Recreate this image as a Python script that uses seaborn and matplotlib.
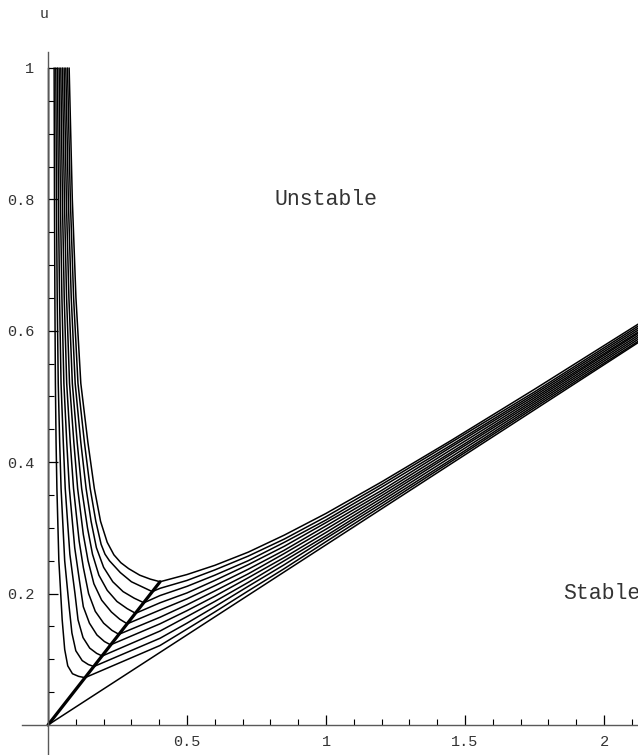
import pandas as pd
import matplotlib
matplotlib.use("Agg")
import matplotlib.pyplot as plt
import seaborn as sns
from matplotlib.ticker import FixedLocator

## data
# left branches, from u = 1 down to the kink on the diagonal
left_x = [
    [0.022, 0.0233, 0.0247, 0.0266, 0.029, 0.032, 0.039, 0.051, 0.060, 0.071, 0.088, 0.110, 0.133],
    [0.028, 0.0304, 0.0331, 0.0368, 0.042, 0.047, 0.060, 0.076, 0.086, 0.100, 0.123, 0.145, 0.165],
    [0.034, 0.0375, 0.0415, 0.0469, 0.055, 0.0619, 0.0786, 0.097, 0.108, 0.126, 0.150, 0.175, 0.195],
    [0.040, 0.0446, 0.050, 0.0571, 0.0674, 0.0768, 0.096, 0.113, 0.127, 0.149, 0.176, 0.203, 0.225],
    [0.046, 0.0518, 0.0584, 0.0672, 0.080, 0.0918, 0.112, 0.127, 0.146, 0.170, 0.200, 0.230, 0.255],
    [0.052, 0.0589, 0.0668, 0.0774, 0.093, 0.1066, 0.127, 0.144, 0.165, 0.193, 0.228, 0.258, 0.285],
    [0.058, 0.066, 0.0752, 0.0875, 0.105, 0.121, 0.142, 0.160, 0.183, 0.213, 0.248, 0.285, 0.315],
    [0.064, 0.0731, 0.0836, 0.0977, 0.118, 0.137, 0.155, 0.174, 0.200, 0.233, 0.270, 0.310, 0.345],
    [0.070, 0.0803, 0.0921, 0.1078, 0.131, 0.1517, 0.172, 0.191, 0.205, 0.221, 0.260, 0.300, 0.345, 0.375],
    [0.076, 0.0874, 0.1005, 0.118, 0.1435, 0.1666, 0.189, 0.213, 0.237, 0.262, 0.290, 0.330, 0.368, 0.403],
]
left_u = [
    [1.0, 0.8, 0.65, 0.52, 0.43, 0.36, 0.25, 0.16, 0.115, 0.09, 0.078, 0.074, 0.072],
    [1.0, 0.8, 0.65, 0.52, 0.43, 0.36, 0.25, 0.18, 0.14, 0.113, 0.098, 0.092, 0.089],
    [1.0, 0.8, 0.65, 0.52, 0.43, 0.36, 0.26, 0.20, 0.16, 0.133, 0.117, 0.109, 0.105],
    [1.0, 0.8, 0.65, 0.52, 0.43, 0.36, 0.27, 0.22, 0.18, 0.155, 0.137, 0.127, 0.122],
    [1.0, 0.8, 0.65, 0.52, 0.43, 0.36, 0.28, 0.24, 0.20, 0.173, 0.155, 0.144, 0.138],
    [1.0, 0.8, 0.65, 0.52, 0.43, 0.36, 0.29, 0.25, 0.215, 0.19, 0.172, 0.161, 0.154],
    [1.0, 0.8, 0.65, 0.52, 0.43, 0.36, 0.30, 0.26, 0.228, 0.205, 0.188, 0.177, 0.170],
    [1.0, 0.8, 0.65, 0.52, 0.43, 0.36, 0.31, 0.27, 0.24, 0.218, 0.203, 0.193, 0.186],
    [1.0, 0.8, 0.65, 0.52, 0.43, 0.36, 0.31, 0.275, 0.26, 0.25, 0.232, 0.218, 0.209, 0.203],
    [1.0, 0.8, 0.65, 0.52, 0.43, 0.36, 0.31, 0.278, 0.259, 0.247, 0.238, 0.228, 0.222, 0.218],
]
# right branches, on a shared x grid past the kinks
right_x = [0.403, 0.5, 0.6, 0.72, 0.85, 1.0, 1.2, 1.45, 1.75, 2.13]
right_u = [
    [0.121, 0.146, 0.172, 0.204, 0.238, 0.279, 0.333, 0.401, 0.483, 0.586],
    [0.132, 0.155, 0.180, 0.211, 0.244, 0.284, 0.337, 0.404, 0.486, 0.589],
    [0.143, 0.165, 0.188, 0.217, 0.250, 0.288, 0.341, 0.408, 0.489, 0.592],
    [0.154, 0.174, 0.196, 0.224, 0.255, 0.293, 0.345, 0.412, 0.492, 0.595],
    [0.164, 0.183, 0.204, 0.230, 0.261, 0.298, 0.349, 0.415, 0.495, 0.598],
    [0.175, 0.192, 0.212, 0.237, 0.266, 0.303, 0.353, 0.419, 0.498, 0.600],
    [0.186, 0.201, 0.220, 0.244, 0.272, 0.308, 0.357, 0.423, 0.501, 0.603],
    [0.197, 0.211, 0.228, 0.250, 0.278, 0.312, 0.362, 0.426, 0.504, 0.606],
    [0.208, 0.220, 0.236, 0.257, 0.283, 0.317, 0.366, 0.430, 0.507, 0.609],
    [0.218, 0.229, 0.243, 0.263, 0.289, 0.322, 0.370, 0.433, 0.511, 0.612],
]
# degenerate member: up the u axis, then straight out
axis_curve_x = [0.002, 0.002]
axis_curve_u = [1.0, 0.0]
line_x = [0.0, 2.13]
line_u = [0.0, 0.584]
# locus of the kinks
diag_x = [0.0, 0.403]
diag_u = [0.0, 0.218]

x_ticks = [0.5, 1, 1.5, 2]
x_labels = ["0.5", "1", "1.5", "2"]
x_minor = [0.1, 0.2, 0.3, 0.4, 0.6, 0.7, 0.8, 0.9, 1.1, 1.2, 1.3, 1.4, 1.6, 1.7, 1.8, 1.9, 2.1]
y_ticks = [0.2, 0.4, 0.6, 0.8, 1]
y_labels = ["0.2", "0.4", "0.6", "0.8", "1"]
y_minor = [0.05, 0.1, 0.15, 0.25, 0.3, 0.35, 0.45, 0.5, 0.55, 0.65, 0.7, 0.75, 0.85, 0.9, 0.95]

# build long table, one "curve" id per line
rows = []
for k in range(len(left_x)):
    xs = list(left_x[k])
    us = list(left_u[k])
    for rx, ru in zip(right_x, right_u[k]):
        if rx > xs[-1]:
            xs.append(rx)
            us.append(ru)
    for i in range(len(xs)):
        rows.append((k + 1, i, xs[i], us[i]))
n = 0
for x, u in zip(axis_curve_x + line_x, axis_curve_u + line_u):
    rows.append((0, n, x, u))
    n += 1
df = pd.DataFrame(rows, columns=["curve", "order", "x", "u"])

sns.set_style("white")
mono = "Liberation Mono"

fig = plt.figure(figsize=(6.38, 7.55), dpi=100)
ax = fig.add_axes([0, 0, 1, 1])

sns.lineplot(data=df, x="x", y="u", units="curve", estimator=None, sort=False,
             color="black", lw=1.1, legend=False, ax=ax)
sns.lineplot(x=diag_x, y=diag_u, color="black", lw=2.3, ax=ax)

ax.set_xlim(-0.1727, 2.1223)
ax.set_ylim(-0.0457, 1.1035)

# mathematica style axes through the origin
for side in ["top", "right"]:
    ax.spines[side].set_visible(False)
ax.spines["left"].set_position(("data", 0))
ax.spines["bottom"].set_position(("data", 0))
ax.spines["left"].set_bounds(-0.05, 1.024)
ax.spines["bottom"].set_bounds(-0.094, 2.2)
for side in ["left", "bottom"]:
    ax.spines[side].set_color("0.35")
    ax.spines[side].set_linewidth(1.0)

ax.xaxis.set_major_locator(FixedLocator(x_ticks))
ax.xaxis.set_minor_locator(FixedLocator(x_minor))
ax.yaxis.set_major_locator(FixedLocator(y_ticks))
ax.yaxis.set_minor_locator(FixedLocator(y_minor))
ax.set_xticklabels(x_labels, family=mono, fontsize=11)
ax.set_yticklabels(y_labels, family=mono, fontsize=11)
ax.tick_params(which="major", direction="in", length=7, width=0.9, color="black", pad=7,
               labelcolor="#333333")
ax.tick_params(which="minor", direction="in", length=4, width=0.8, color="black")
ax.tick_params(axis="y", which="major", pad=10)
ax.tick_params(bottom=True, left=True, which="both")
ax.set_xlabel("")
ax.set_ylabel("")

ax.text(0, 1.082, "u", family=mono, fontsize=10.5, ha="right", va="center", color="#333333")
ax.text(1.0, 0.80, "Unstable", family=mono, fontsize=15.5, ha="center", va="center",
        color="#333333")
# cut by the right edge, as in the original
ax.text(1.853, 0.20, "Stable", family=mono, fontsize=15.5, ha="left", va="center",
        color="#333333")

fig.savefig("out.png", dpi=100)
